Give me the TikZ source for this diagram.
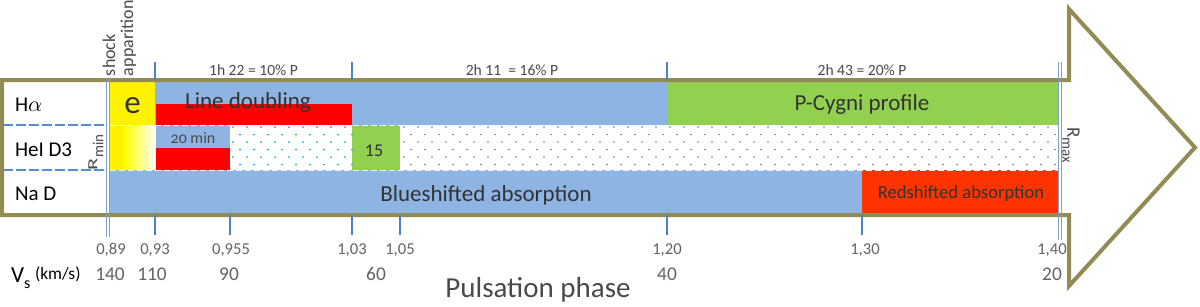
\documentclass[tikz,border=0pt]{standalone}
\usepackage{fontspec}
\setmainfont{Carlito}
\usepackage{graphicx}
\definecolor{arrowol}{HTML}{948A54}
\definecolor{bblue}{HTML}{8EB4E3}
\definecolor{bgreen}{HTML}{92D050}
\definecolor{bred}{HTML}{FF0000}
\definecolor{borange}{HTML}{FF3300}
\definecolor{tickc}{HTML}{4F81BD}
\definecolor{dashc}{HTML}{558ED5}
\definecolor{dotcyan}{HTML}{00B0F0}
\definecolor{dotblue}{HTML}{4F81BD}
\definecolor{txtg}{HTML}{636363}
\definecolor{txtm}{HTML}{4A4A4A}
\definecolor{txtd}{HTML}{333333}
\begin{document}
\begin{tikzpicture}[x=0.5pt,y=-0.5pt,
  every node/.style={inner sep=0pt, outer sep=0pt},
  tickline/.style={tickc, line width=0.7pt},
  dblline/.style={tickc!75, line width=0.5pt},
  rowlbl/.style={anchor=base west, text=black, font=\fontsize{10.5}{12}\selectfont},
  boxlbl/.style={anchor=base, text=txtd, font=\fontsize{11.5}{13}\selectfont},
  timelbl/.style={anchor=base, text=txtm, font=\fontsize{7.8}{9}\selectfont},
  phaselbl/.style={anchor=base, text=txtg, font=\fontsize{8.3}{9}\selectfont},
  vellbl/.style={anchor=base, text=txtg, font=\fontsize{9.7}{11}\selectfont},
  sepdash/.style={dashc, line width=1pt, dash pattern=on 5pt off 1.5pt},
  rowdash/.style={white!85!bblue, line width=0.5pt, dash pattern=on 3pt off 1.5pt}]
\useasboundingbox (0,0) rectangle (1200,306);
\fill[white] (0,0) rectangle (1200,306);

% coloured boxes
\fill[yellow] (110,81) rectangle (155,125);
\fill[yellow] (110,125) rectangle (124,170);
\shade[left color=yellow, right color=white] (124,125) rectangle (156,170);
\fill[bblue] (155,81) rectangle (667,125);
\fill[bred] (156,103.5) rectangle (352,125);
\fill[bblue] (156,125) rectangle (230,148);
\fill[bred] (156,148) rectangle (230,170);
\fill[bgreen] (352,125) rectangle (400,170);
\fill[bgreen] (667,81) rectangle (1059,125);
\fill[bblue] (110,170) rectangle (862,214);
\fill[borange] (862,170) rectangle (1059,214);

% dotted regions
\foreach \j in {0,...,5} {
  \pgfmathsetmacro\off{mod(\j,2)*7}
  \foreach \i in {0,...,8}
    \fill[dotcyan] ({233+\off+14*\i},{127+7.5*\j}) circle (0.5pt);
  \foreach \i in {0,...,46}
    \fill[dotblue] ({404+\off+14*\i},{127+7.5*\j}) circle (0.45pt);
}

% faint row separators inside the chart
\draw[rowdash] (110,125) -- (1058,125);
\draw[rowdash] (110,170) -- (1058,170);

% arrow outline
\draw[arrowol, line width=2pt, miter limit=10]
  (2,80) -- (1069,80) -- (1069,9) -- (1195,147.5) -- (1069,286) -- (1069,215) -- (2,215) -- cycle;

% label column separators
\draw[sepdash] (3,125) -- (106,125);
\draw[sepdash] (3,170) -- (106,170);

% Rmin / Rmax double lines
\draw[dblline] (106.5,78) -- (106.5,237);
\draw[dblline] (109.5,78) -- (109.5,237);
\draw[dblline] (1058,62) -- (1058,240);
\draw[dblline] (1061.5,62) -- (1061.5,240);

% ticks
\foreach \x in {155,352,667}
  \draw[tickline] (\x,62) -- (\x,80);
\foreach \x in {155,230,352,400,667,862}
  \draw[tickline] (\x,215) -- (\x,235);

% row labels
\node[rowlbl] (ha) at (15,111) {H$\alpha$};
\node[rowlbl] (hei) at (15,156) {HeI D3};
\node[rowlbl] (nad) at (15,200) {Na D};

% box labels
\node[anchor=base, text=txtd, font=\fontsize{16.5}{17}\selectfont] (e) at (132.5,113) {e};
\node[boxlbl] (ld) at (248,108) {Line doubling};
\node[anchor=base, text=txtm, font=\fontsize{8}{9}\selectfont\addfontfeatures{Numbers=OldStyle}] (tw) at (193,143) {20 min};
\node[anchor=base, text=txtd, font=\fontsize{9}{10}\selectfont] (fif) at (374,156) {15};
\node[boxlbl] (pc) at (862,110) {P-Cygni profile};
\node[boxlbl] (bs) at (486,201) {Blueshifted absorption};
\node[anchor=base, text=txtd, font=\fontsize{9.3}{11}\selectfont] (rs) at (961,198) {Redshifted absorption};

% shock apparition
\node[rotate=90, anchor=south west, align=left, text=txtm, font=\fontsize{9}{9}\selectfont] (shock) at (136,76) {shock\\apparition};

% Rmin, Rmax
\node[rotate=90, anchor=west, text=txtm] (rmin) at (96,170)
  {\fontsize{7}{7}\selectfont\scalebox{1.6}[1]{R}\raisebox{-3pt}{\fontsize{7.5}{8}\selectfont min}};
\node[rotate=270, anchor=west, text=txtm] (rmax) at (1071,127)
  {\fontsize{9.5}{10}\selectfont R\raisebox{-2.5pt}{\fontsize{7.5}{8}\selectfont max}};

% time spans
\node[timelbl] (t1) at (253.5,75) {1h 22 = 10\% P};
\node[timelbl] (t2) at (512,75) {2h 11~ = 16\% P};
\node[timelbl] (t3) at (862,75) {2h 43 = 20\% P};

% phase values
\node[phaselbl] (p1) at (111,254) {0,89};
\node[phaselbl] (p2) at (155,254) {0,93};
\node[phaselbl] (p3) at (231,254) {0,955};
\node[phaselbl] (p4) at (352,254) {1,03};
\node[phaselbl] (p5) at (400,254) {1,05};
\node[phaselbl] (p6) at (667,254) {1,20};
\node[phaselbl] (p7) at (865,254) {1,30};
\node[phaselbl] (p8) at (1052,254) {1,40};

% shock velocities
\node[anchor=base west, font=\fontsize{11.5}{12}\selectfont] (vs) at (11,282) {V\raisebox{-3pt}{\fontsize{8}{8}\selectfont s}};
\node[anchor=base west, font=\fontsize{8.7}{10}\selectfont] (kms) at (35,279) {(km/s)};
\node[vellbl] (v1) at (110,280) {140};
\node[vellbl] (v2) at (152,280) {110};
\node[vellbl] (v3) at (229,280) {90};
\node[vellbl] (v4) at (376,280) {60};
\node[vellbl] (v5) at (667,280) {40};
\node[vellbl] (v6) at (1052,280) {20};

% axis title
\node[anchor=base, text=txtm, font=\fontsize{14.5}{16}\selectfont] (pp) at (538,297) {Pulsation phase};
\end{tikzpicture}
\end{document}
